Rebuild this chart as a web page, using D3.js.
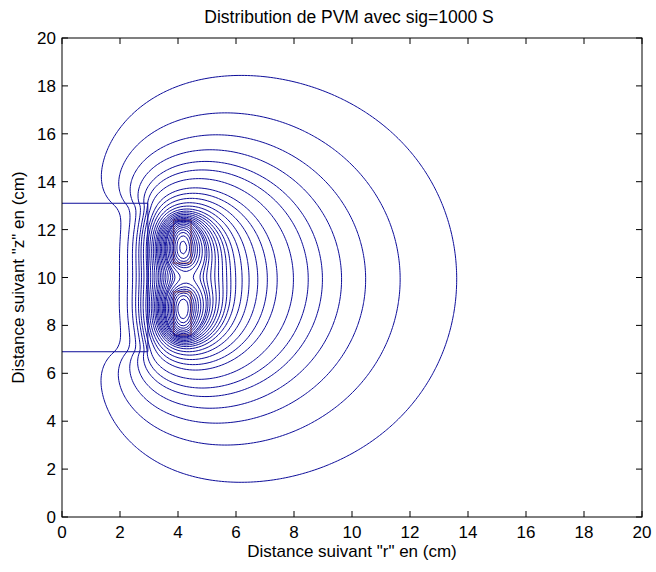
<!DOCTYPE html>
<html><head><meta charset="utf-8">
<script src="https://cdn.jsdelivr.net/npm/d3@7"></script>
<style>body{margin:0;background:#fff}text{font-family:"Liberation Sans",Arial,sans-serif;fill:#000}</style>
</head><body>
<svg id="c" width="656" height="572"></svg>
<script>
// ---- data ----
const titleText = "Distribution de PVM avec sig=1000 S";
const xLabel = "Distance suivant \"r\" en (cm)";
const yLabel = "Distance suivant \"z\" en (cm)";
const xTicks = [0,2,4,6,8,10,12,14,16,18,20];
const yTicks = [0,2,4,6,8,10,12,14,16,18,20];
const domainR = [0,20];
const domainZ = [0,20];
// conductor (sig = 1000 S) region, cm, and its skin depth
const conductorR = [0, 2.96];
const conductorZ = [6.9, 13.1];
const skinDepth = 0.55;
// the two coils, cm
const coilR = [3.85, 4.45];
const coilZlow = [7.6, 9.4];
const coilZhigh = [10.6, 12.4];
// radii (cm) where the contour lines cross z = 10 right of the coils
const crossR = [4.76,4.87,4.99,5.13,5.27,5.40,5.54,5.68,5.82,5.99,6.21,6.45,6.75,7.08,7.42,7.98,8.49,8.98,9.64,10.47,11.66,13.61];
const crossZ = 10;
// closed loops around each coil above the saddle level
const innerLoops = 8;

// ---- layout ----
const svg = d3.select("#c");
const L = 62, R = 642, T = 38, B = 517;
const x = d3.scaleLinear().domain(domainR).range([L, R]);
const y = d3.scaleLinear().domain(domainZ).range([B, T]);

// ---- field (magnetic vector potential), A = 0 on the outer boundary ----
const h = 0.1, rMax = 20, zMin = -4, zMax = 24;
const NR = Math.round(rMax/h) + 1, NZ = Math.round((zMax-zMin)/h) + 1;
const A = new Float64Array(NR*NZ), J = new Float64Array(NR*NZ), K2 = new Float64Array(NR*NZ);
const kk = (h/skinDepth)*(h/skinDepth);
for (let j = 0; j < NZ; j++) for (let i = 0; i < NR; i++) {
  const k = j*NR + i, r = i*h, z = zMin + j*h;
  if (r <= conductorR[1] && z >= conductorZ[0] && z <= conductorZ[1]) K2[k] = kk;
  if (r >= coilR[0] && r <= coilR[1] && ((z >= coilZlow[0] && z <= coilZlow[1]) || (z >= coilZhigh[0] && z <= coilZhigh[1]))) J[k] = h*h;
}
const aE = new Float64Array(NR), aW = new Float64Array(NR), aP = new Float64Array(NR);
for (let i = 1; i < NR; i++) { aE[i] = 1 + 0.5/i; aW[i] = 1 - 0.5/i; aP[i] = 4 + 1/(i*i); }
const omega = 1.97;
for (let it = 0; it < 1500; it++) {
  for (let j = 1; j < NZ-1; j++) {
    const base = j*NR;
    for (let i = 1; i < NR-1; i++) {
      const k = base + i;
      const v = (aE[i]*A[k+1] + aW[i]*A[k-1] + A[k+NR] + A[k-NR] + J[k]) / (aP[i] + K2[k]);
      A[k] += omega*(v - A[k]);
    }
  }
}
function fieldAt(r, z) {
  const gx = r/h, gy = (z-zMin)/h, i = Math.floor(gx), j = Math.floor(gy), fx = gx-i, fy = gy-j;
  const a = A[j*NR+i], b = A[j*NR+i+1], c = A[(j+1)*NR+i], d = A[(j+1)*NR+i+1];
  return a*(1-fx)*(1-fy) + b*fx*(1-fy) + c*(1-fx)*fy + d*fx*fy;
}
const levels = crossR.map(r => fieldAt(r, crossZ)).sort((a,b)=>a-b);
const topLevel = levels[levels.length-1], Amax = d3.max(A);
for (let k = 1; k <= innerLoops; k++) levels.push(topLevel + k*(Amax-topLevel)/(innerLoops+1));

// ---- drawing ----
svg.append("rect").attr("x",0).attr("y",0).attr("width",656).attr("height",572).attr("fill","#fff");
svg.append("clipPath").attr("id","clip").append("rect").attr("x",L).attr("y",T).attr("width",R-L).attr("height",B-T);
const plot = svg.append("g").attr("clip-path","url(#clip)");
[coilZlow, coilZhigh].forEach(cz => {
  plot.append("rect").attr("x", x(coilR[0])).attr("y", y(cz[1]))
    .attr("width", x(coilR[1])-x(coilR[0])).attr("height", y(cz[0])-y(cz[1]))
    .attr("fill","none").attr("stroke","#d2691e").attr("stroke-width",1);
});
const proj = d3.geoTransform({point(px, py){ this.stream.point(x((px-0.5)*h), y(zMin + (py-0.5)*h)); }});
const path = d3.geoPath(proj);
const cs = d3.contours().size([NR, NZ]).thresholds(levels)(Array.from(A));
plot.selectAll("path.c").data(cs).join("path").attr("class","c")
  .attr("d", path).attr("fill","none").attr("stroke","#0d0d9a").attr("stroke-width",1);
plot.append("path").attr("fill","none").attr("stroke","#0d0d9a").attr("stroke-width",1)
  .attr("d", d3.line()([[x(conductorR[0]), y(conductorZ[1])],[x(conductorR[1]), y(conductorZ[1])],[x(conductorR[1]), y(conductorZ[0])],[x(conductorR[0]), y(conductorZ[0])]]));

// axes box, ticks inside
const fs = 17;
const ax = svg.append("g");
ax.append("rect").attr("x",L).attr("y",T).attr("width",R-L).attr("height",B-T).attr("fill","none").attr("stroke","#000").attr("stroke-width",1);
xTicks.forEach(t => {
  ax.append("line").attr("x1",x(t)).attr("x2",x(t)).attr("y1",B).attr("y2",B-6).attr("stroke","#000");
  ax.append("line").attr("x1",x(t)).attr("x2",x(t)).attr("y1",T).attr("y2",T+6).attr("stroke","#000");
  ax.append("text").attr("x",x(t)).attr("y",B+21).attr("text-anchor","middle").attr("font-size",fs).text(t);
});
yTicks.forEach(t => {
  ax.append("line").attr("x1",L).attr("x2",L+6).attr("y1",y(t)).attr("y2",y(t)).attr("stroke","#000");
  ax.append("line").attr("x1",R).attr("x2",R-6).attr("y1",y(t)).attr("y2",y(t)).attr("stroke","#000");
  ax.append("text").attr("x",L-6).attr("y",y(t)+6).attr("text-anchor","end").attr("font-size",fs).text(t);
});
svg.append("text").attr("x",(L+R)/2 - 3).attr("y",23).attr("text-anchor","middle").attr("font-size",17.5).text(titleText);
svg.append("text").attr("x",(L+R)/2).attr("y",557).attr("text-anchor","middle").attr("font-size",fs).text(xLabel);
svg.append("text").attr("transform",`translate(24,${(T+B)/2}) rotate(-90)`).attr("text-anchor","middle").attr("font-size",fs).text(yLabel);
</script>
</body></html>
